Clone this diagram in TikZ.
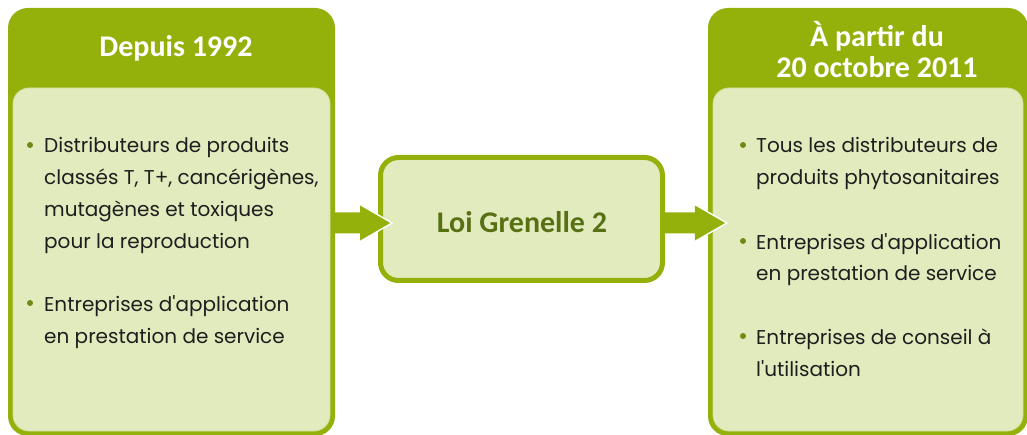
\documentclass[tikz,border=0pt]{standalone}
\usepackage{fontspec}
\setmainfont{Poppins}[Ligatures=TeXOff]
\newfontfamily\headfont{Carlito}
\usetikzlibrary{calc}
\definecolor{leaf}{RGB}{148,176,10}
\definecolor{pale}{RGB}{226,235,190}
\definecolor{paleline}{RGB}{208,224,150}
\definecolor{olive}{RGB}{88,112,20}
\definecolor{ink}{RGB}{30,30,30}
\definecolor{dotgreen}{RGB}{110,140,20}
\newcommand\fatarrow[2]{%
  \fill[leaf] ($(#1)+(0,-10.5)$) -- ($(#2)+(-32,-10.5)$) -- ($(#2)+(-32,-18.5)$) -- (#2)
     -- ($(#2)+(-32,18.5)$) -- ($(#2)+(-32,10.5)$) -- ($(#1)+(0,10.5)$) -- cycle;
  \draw[white, line width=1.4pt, line join=miter] ($(#2)+(-32,-18.5)$) -- (#2) -- ($(#2)+(-32,18.5)$);
}
\tikzset{
  outerbox/.style={fill=leaf, rounded corners=20pt, inner sep=0pt},
  innerbox/.style={fill=pale, draw=paleline, line width=0.8pt, rounded corners=16pt, inner sep=0pt},
  midbox/.style={fill=pale, draw=leaf, line width=5pt, rounded corners=18pt, inner sep=0pt},
  headtext/.style={text=white, font=\headfont\bfseries\fontsize{30}{31}\selectfont, align=center, inner sep=0pt},
  itemtext/.style={text=ink, font=\fontsize{20}{32}\selectfont, align=left, anchor=base west, inner sep=0pt},
  bulletdot/.style={circle, fill=dotgreen, minimum size=6pt, inner sep=0pt},
}
\begin{document}
\begin{tikzpicture}[x=1pt,y=-1pt]
\useasboundingbox (0,0) rectangle (1027,435);
% left column
\node[outerbox, minimum width=327pt, minimum height=428pt] (lo) at (171.5,222) {};
\node[innerbox, minimum width=317pt, minimum height=343pt] (li) at (171.5,259.5) {};
\node[headtext] (lh) at (176,48) {Depuis 1992};
\node[bulletdot] (lb1) at (30,145) {};
\node[itemtext] (lt1) at (44,249) {Distributeurs de produits\\classés T, T+, cancérigènes,\\mutagènes et toxiques\\pour la reproduction};
\node[bulletdot] (lb2) at (30,303) {};
\node[itemtext] (lt2) at (44,343) {Entreprises d'application\\en prestation de service};
% right column
\node[outerbox, minimum width=320pt, minimum height=428pt] (ro) at (868,222) {};
\node[innerbox, minimum width=310pt, minimum height=343pt] (ri) at (868,259.5) {};
\node[headtext] (rh) at (877,50) {À partir du\\20 octobre 2011};
\node[bulletdot] (rb1) at (743,145) {};
\node[itemtext] (rt1) at (756,185) {Tous les distributeurs de\\produits phytosanitaires};
\node[bulletdot] (rb2) at (743,241) {};
\node[itemtext] (rt2) at (756,281) {Entreprises d'application\\en prestation de service};
\node[bulletdot] (rb3) at (743,336) {};
\node[itemtext] (rt3) at (756,376) {Entreprises de conseil à\\l'utilisation};
% middle
\node[midbox, minimum width=282pt, minimum height=123pt] (mid) at (521.5,219) {};
\node[text=olive, font=\headfont\bfseries\fontsize{30}{32}\selectfont, inner sep=0pt] (law) at (522,222) {Loi Grenelle 2};
% arrows
\coordinate (a1s) at (lo.east |- 0,223);
\coordinate (a1t) at ($(mid.west |- 0,223)+(14,0)$);
\coordinate (a2s) at (mid.east |- 0,223);
\coordinate (a2t) at ($(ro.west |- 0,223)+(19,0)$);
\fatarrow{a1s}{a1t}
\fatarrow{a2s}{a2t}
\end{tikzpicture}
\end{document}
